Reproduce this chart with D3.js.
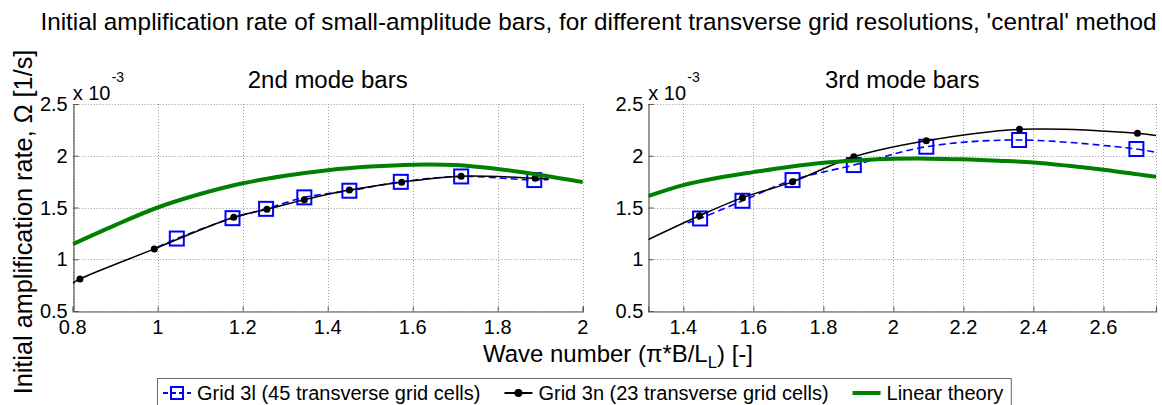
<!DOCTYPE html>
<html>
<head>
<meta charset="utf-8">
<script src="https://cdn.jsdelivr.net/npm/d3@7"></script>
<style>
  body { margin: 0; background: #fff; }
  svg { display: block; }
  text { font-family: "Liberation Sans", Arial, Helvetica, sans-serif; fill: #000; }
</style>
</head>
<body>
<script>
// ---- data ----
const figTitle = "Initial amplification rate of small-amplitude bars, for different transverse grid resolutions, 'central' method";
const modeTitles = ["2nd mode bars", "3rd mode bars"];
const xTicks2 = [0.8, 1, 1.2, 1.4, 1.6, 1.8, 2];
const xTicks3 = [1.4, 1.6, 1.8, 2, 2.2, 2.4, 2.6];
const yTicks = [0.5, 1, 1.5, 2, 2.5];
const legendLabels = ["Grid 3l (45 transverse grid cells)", "Grid 3n (23 transverse grid cells)", "Linear theory"];

// 2nd mode bars
const grid3lX2 = [1.045, 1.176, 1.255, 1.345, 1.451, 1.572, 1.714, 1.886];
const grid3lY2 = [1.20, 1.397, 1.487, 1.598, 1.662, 1.748, 1.800, 1.765];
const grid3lEndX2 = [1.0, 1.92];
const grid3lEndY2 = [1.115, 1.772];
const grid3nX2 = [0.817, 0.992, 1.179, 1.257, 1.345, 1.451, 1.574, 1.714, 1.888];
const grid3nY2 = [0.81, 1.10, 1.405, 1.483, 1.575, 1.668, 1.745, 1.803, 1.782];
const grid3nEndX2 = [0.8, 1.92];
const grid3nEndY2 = [0.77, 1.775];
const linearX2 = [0.8, 0.9, 1.0, 1.1, 1.2, 1.3, 1.4, 1.5, 1.6, 1.7, 1.8, 1.9, 2.0];
const linearY2 = [1.145, 1.33, 1.50, 1.63, 1.734, 1.806, 1.86, 1.895, 1.914, 1.91, 1.872, 1.814, 1.745];

// 3rd mode bars
const grid3lX3 = [1.448, 1.569, 1.712, 1.887, 2.094, 2.359, 2.694];
const grid3lY3 = [1.394, 1.565, 1.765, 1.910, 2.087, 2.152, 2.065];
const grid3lEndX3 = [1.412, 2.75];
const grid3lEndY3 = [1.352, 2.033];
const grid3nX3 = [1.446, 1.569, 1.712, 1.887, 2.094, 2.360, 2.697];
const grid3nY3 = [1.42, 1.595, 1.748, 1.99, 2.145, 2.255, 2.217];
const grid3nEndX3 = [1.3, 2.75];
const grid3nEndY3 = [1.19, 2.195];
const linearX3 = [1.3, 1.4, 1.5, 1.6, 1.7, 1.8, 1.9, 2.0, 2.1, 2.2, 2.3, 2.4, 2.5, 2.6, 2.7, 2.75];
const linearY3 = [1.61, 1.716, 1.787, 1.842, 1.892, 1.932, 1.955, 1.97, 1.972, 1.965, 1.952, 1.935, 1.903, 1.865, 1.82, 1.797];

const blue = "#0000ff", black = "#000000", green = "#008000";

// ---- helpers ----
const pts = (xs, ys) => xs.map((x, i) => [x, ys[i]]);
const withEnds = (xs, ys, ex, ey) => [[ex[0], ey[0]], ...pts(xs, ys), [ex[1], ey[1]]];

const panels = [
  {
    title: modeTitles[0], xDomain: [0.8, 2], xTicks: xTicks2, left: 72.7, right: 582.7,
    grid3l: pts(grid3lX2, grid3lY2), grid3lLine: withEnds(grid3lX2, grid3lY2, grid3lEndX2, grid3lEndY2),
    grid3n: pts(grid3nX2, grid3nY2), grid3nLine: withEnds(grid3nX2, grid3nY2, grid3nEndX2, grid3nEndY2),
    linear: pts(linearX2, linearY2)
  },
  {
    title: modeTitles[1], xDomain: [1.3, 2.75], xTicks: xTicks3, left: 648.3, right: 1156,
    grid3l: pts(grid3lX3, grid3lY3), grid3lLine: withEnds(grid3lX3, grid3lY3, grid3lEndX3, grid3lEndY3),
    grid3n: pts(grid3nX3, grid3nY3), grid3nLine: withEnds(grid3nX3, grid3nY3, grid3nEndX3, grid3nEndY3),
    linear: pts(linearX3, linearY3)
  }
];

const W = 1162, H = 405;
const plotTop = 104, plotBottom = 311;

const svg = d3.select("body").append("svg")
  .attr("width", W).attr("height", H);

// scale text so that it spans a given width
function fitWidth(sel, width) {
  const w = sel.node().getComputedTextLength();
  const fs = parseFloat(sel.attr("font-size"));
  sel.attr("font-size", fs * width / w);
  return fs * width / w;
}

// figure title
const title = svg.append("text")
  .attr("x", 598.5).attr("y", 30)
  .attr("text-anchor", "middle")
  .attr("font-size", 20)
  .text(figTitle);
fitWidth(title, 1117);

const y = d3.scaleLinear().domain([0.5, 2.5]).range([plotBottom, plotTop]);
const fmt = d => d3.format("~g")(d);
let subSize = null;

panels.forEach((p, pi) => {
  const x = d3.scaleLinear().domain(p.xDomain).range([p.left, p.right]);
  const g = svg.append("g");

  const clipId = "clip" + pi;
  svg.append("clipPath").attr("id", clipId)
    .append("rect")
    .attr("x", p.left).attr("y", plotTop - 2)
    .attr("width", p.right - p.left + 1).attr("height", plotBottom - plotTop + 4);

  // grid
  const grid = g.append("g")
    .attr("stroke", "#9a9a9a").attr("stroke-width", 1).attr("stroke-dasharray", "1,2");
  grid.selectAll(".gx").data(p.xTicks.concat([p.xDomain[1]]))
    .join("line")
    .attr("x1", d => Math.round(x(d)) + 0.5).attr("x2", d => Math.round(x(d)) + 0.5)
    .attr("y1", plotTop).attr("y2", plotBottom);
  grid.selectAll(".gy").data(yTicks)
    .join("line")
    .attr("x1", p.left).attr("x2", p.right)
    .attr("y1", d => Math.round(y(d)) + 0.5).attr("y2", d => Math.round(y(d)) + 0.5);

  // axes: left and bottom with inward ticks
  const xAxis = g.append("g")
    .attr("transform", `translate(0,${Math.round(plotBottom) + 0.5})`)
    .call(d3.axisTop(x).tickValues(p.xTicks).tickSize(5).tickFormat(""));
  const yAxis = g.append("g")
    .attr("transform", `translate(${Math.round(p.left) + 0.5},0)`)
    .call(d3.axisRight(y).tickValues(yTicks).tickSize(5).tickFormat(""));
  [xAxis, yAxis].forEach(a => {
    a.select(".domain").attr("stroke", "#555").attr("stroke-width", 1.2);
    a.selectAll(".tick line").attr("stroke", "#555");
  });

  // tick labels
  g.selectAll(".xl").data(p.xTicks)
    .join("text")
    .attr("x", d => x(d)).attr("y", plotBottom + 23)
    .attr("text-anchor", "middle")
    .attr("font-size", 20)
    .text(fmt);
  g.selectAll(".yl").data(yTicks)
    .join("text")
    .attr("x", p.left - 5).attr("y", d => y(d) + 7)
    .attr("text-anchor", "end")
    .attr("font-size", 20)
    .text(fmt);

  // exponent label
  g.append("text")
    .attr("x", p.left).attr("y", 100)
    .attr("font-size", 20)
    .text("x 10");
  g.append("text")
    .attr("x", p.left + 39).attr("y", 82)
    .attr("font-size", 14)
    .text("-3");

  // subplot title
  const st = g.append("text")
    .attr("x", (p.left + p.right) / 2).attr("y", 88)
    .attr("text-anchor", "middle")
    .attr("font-size", subSize || 22)
    .text(p.title);
  if (!subSize) subSize = fitWidth(st, 160);

  // series
  const plot = g.append("g").attr("clip-path", `url(#${clipId})`);
  const line = d3.line().x(d => x(d[0])).y(d => y(d[1])).curve(d3.curveCatmullRom.alpha(0.5));

  plot.append("path").datum(p.grid3lLine)
    .attr("d", line).attr("fill", "none")
    .attr("stroke", blue).attr("stroke-width", 1.6).attr("stroke-dasharray", "7,4");
  plot.selectAll(".sq").data(p.grid3l)
    .join("rect")
    .attr("x", d => x(d[0]) - 7).attr("y", d => y(d[1]) - 7)
    .attr("width", 14).attr("height", 14)
    .attr("fill", "none").attr("stroke", blue).attr("stroke-width", 2);

  plot.append("path").datum(p.grid3nLine)
    .attr("d", line).attr("fill", "none")
    .attr("stroke", black).attr("stroke-width", 1.5);
  plot.selectAll(".dot").data(p.grid3n)
    .join("circle")
    .attr("cx", d => x(d[0])).attr("cy", d => y(d[1]))
    .attr("r", 3.5).attr("fill", black);

  plot.append("path").datum(p.linear)
    .attr("d", line).attr("fill", "none")
    .attr("stroke", green).attr("stroke-width", 4);
});

// axis labels
const xl = svg.append("text")
  .attr("x", 618).attr("y", 362)
  .attr("text-anchor", "middle")
  .attr("font-size", 22);
xl.append("tspan").text("Wave number (\u03c0*B/L");
xl.append("tspan").attr("dy", 6).attr("font-size", "0.7em").text("L");
xl.append("tspan").attr("dy", -6).text(") [-]");
fitWidth(xl, 270);

const yl = svg.append("text")
  .attr("transform", "translate(32,222) rotate(-90)")
  .attr("text-anchor", "middle")
  .attr("font-size", 22)
  .text("Initial amplification rate, \u03a9 [1/s]");
fitWidth(yl, 345);

// legend
const lg = svg.append("g");
const lgBox = lg.append("rect")
  .attr("x", 157.5).attr("y", 378.5).attr("height", 40)
  .attr("fill", "#fff").attr("stroke", "#666").attr("stroke-width", 1);
const lgY = 393;
let cx = 163;
const styles = [
  { color: blue, dash: "5,3", width: 2, marker: "square" },
  { color: black, dash: null, width: 2, marker: "dot" },
  { color: green, dash: null, width: 4, marker: null }
];
legendLabels.forEach((lab, i) => {
  const s = styles[i];
  const len = 28;
  lg.append("line")
    .attr("x1", cx).attr("x2", cx + len).attr("y1", lgY).attr("y2", lgY)
    .attr("stroke", s.color).attr("stroke-width", s.width)
    .attr("stroke-dasharray", s.dash);
  if (s.marker === "square") {
    lg.append("rect")
      .attr("x", cx + len / 2 - 6).attr("y", lgY - 6).attr("width", 12).attr("height", 12)
      .attr("fill", "none").attr("stroke", s.color).attr("stroke-width", 2);
  } else if (s.marker === "dot") {
    lg.append("circle").attr("cx", cx + len / 2).attr("cy", lgY).attr("r", 4).attr("fill", s.color);
  }
  const t = lg.append("text")
    .attr("x", cx + len + 6).attr("y", lgY + 7)
    .attr("font-size", 20)
    .text(lab);
  cx += len + 6 + t.node().getComputedTextLength() + 24;
});
lgBox.attr("width", cx - 157.5 - 16);
</script>
</body>
</html>
